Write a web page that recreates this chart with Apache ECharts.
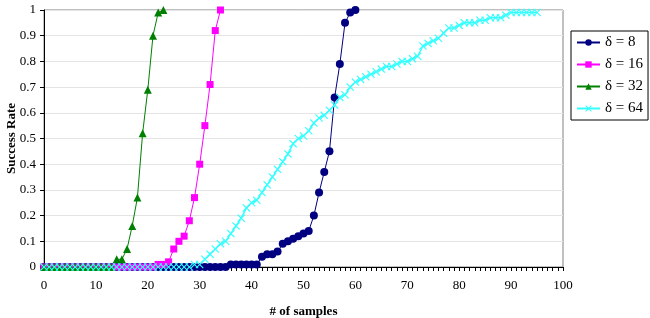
<!DOCTYPE html>
<html>
<head>
<meta charset="utf-8">
<script src="https://cdn.jsdelivr.net/npm/echarts@6/dist/echarts.min.js"></script>
<style>
  html, body { margin: 0; padding: 0; background: #fff; }
  #chart { width: 650px; height: 318px; }
</style>
</head>
<body>
<div id="chart"></div>
<script>
// success rate per number of samples, x = 0, 1, 2, ...
const seriesNames = ['δ = 8', 'δ = 16', 'δ = 32', 'δ = 64']

const d8 = [0,0,0,0,0,0,0,0,0,0, 0,0,0,0,0,0,0,0,0,0, 0,0,0,0,0,0,0,0,0,0,
  0,0,0,0,0,0, 0.01,0.01,0.01,0.01,0.01,0.01,
  0.04,0.05,0.05,0.06,0.09,0.10,0.11,0.12,0.13,0.14,
  0.20,0.29,0.37,0.45,0.66,0.79,0.95,0.99,1.0]

const d16 = [0,0,0,0,0,0,0,0,0,0, 0,0,0,0,0,0,0,0,0,0, 0,0,
  0.01,0.01,0.02,0.07,0.10,0.12,0.18,0.27,0.40,0.55,0.71,0.92,1.0]

const d32 = [0,0,0,0,0,0,0,0,0,0, 0,0,0,0,
  0.03,0.03,0.07,0.16,0.27,0.52,0.69,0.90,0.99,1.0]

const d64 = [0,0,0,0,0,0,0,0,0,0, 0,0,0,0,0,0,0,0,0,0, 0,0,0,0,0,0,0,0,0,
  0.01,0.01,0.03,0.05,0.07,0.09,0.10,0.13,0.16,0.19,
  0.23,0.25,0.26,0.29,0.32,0.35,0.38,0.41,0.44,0.48,
  0.50,0.51,0.53,0.56,0.58,0.59,0.61,0.63,0.66,0.67,
  0.70,0.72,0.73,0.74,0.75,0.76,0.77,0.78,0.78,0.79,
  0.80,0.80,0.81,0.82,0.86,0.87,0.88,0.89,0.91,0.93,
  0.93,0.94,0.95,0.95,0.95,0.96,0.96,0.97,0.97,0.97,
  0.98,0.99,0.99,0.99,0.99,0.99,0.99]

const serif = "'Liberation Serif', 'Times New Roman', serif"
const crossPath = 'path://M0,1 L1,0 L5,4 L9,0 L10,1 L6,5 L10,9 L9,10 L5,6 L1,10 L0,9 L4,5 Z'

const toXY = arr => arr.map((v, i) => [i, v])

const chart = echarts.init(document.getElementById('chart'), null, { renderer: 'canvas' })

const mk = (name, data, color, symbol, size, width) => ({
  name, type: 'line', data: toXY(data),
  symbol, symbolSize: size, showSymbol: true,
  lineStyle: { color, width },
  itemStyle: { color, borderColor: color, borderWidth: 0 },
  emphasis: { disabled: true }
})

chart.setOption({
  backgroundColor: '#fff',
  animation: false,
  textStyle: { fontFamily: serif, color: '#000' },
  grid: {
    left: 44, right: 87, top: 10, bottom: 51,
    containLabel: false, outerBoundsMode: 'none',
    show: true, borderColor: '#808080', borderWidth: 1, backgroundColor: 'transparent'
  },
  legend: {
    orient: 'vertical',
    left: 571, top: 31,
    padding: [4, 5, 4, 5],
    borderColor: '#000', borderWidth: 1,
    itemWidth: 23, itemHeight: 8, itemGap: 7,
    textStyle: { fontFamily: serif, fontSize: 15, color: '#000', lineHeight: 15 },
    data: seriesNames
  },
  xAxis: {
    type: 'value', min: 0, max: 100, interval: 10,
    name: '# of samples', nameLocation: 'middle', nameGap: 38, nameMoveOverlap: false,
    nameTextStyle: { fontFamily: serif, fontSize: 13, fontWeight: 'bold', color: '#000' },
    axisLine: { show: true, lineStyle: { color: '#000', width: 1 } },
    axisTick: { show: true, length: 4, lineStyle: { color: '#000' } },
    minorTick: { show: true, splitNumber: 10, length: 4, lineStyle: { color: '#000' } },
    axisLabel: { fontFamily: serif, fontSize: 13, color: '#000', margin: 12 },
    splitLine: { show: false }
  },
  yAxis: {
    type: 'value', min: 0, max: 1, interval: 0.1,
    name: 'Success Rate', nameLocation: 'middle', nameGap: 26, nameMoveOverlap: false,
    nameTextStyle: { fontFamily: serif, fontSize: 13, fontWeight: 'bold', color: '#000' },
    axisLine: { show: true, lineStyle: { color: '#000', width: 1 } },
    axisTick: { show: true, length: 4, lineStyle: { color: '#000' } },
    axisLabel: { fontFamily: serif, fontSize: 13, color: '#000', margin: 8 },
    splitLine: { show: true, lineStyle: { color: '#e4e4e4', width: 1 } }
  },
  series: [
    mk(seriesNames[0], d8, '#000080', 'circle', 8, 1),
    mk(seriesNames[1], d16, '#ff00ff', 'rect', 7, 1),
    mk(seriesNames[2], d32, '#008000', 'triangle', 8, 1),
    mk(seriesNames[3], d64, '#33ffff', crossPath, 8, 1.5)
  ]
})
</script>
</body>
</html>
